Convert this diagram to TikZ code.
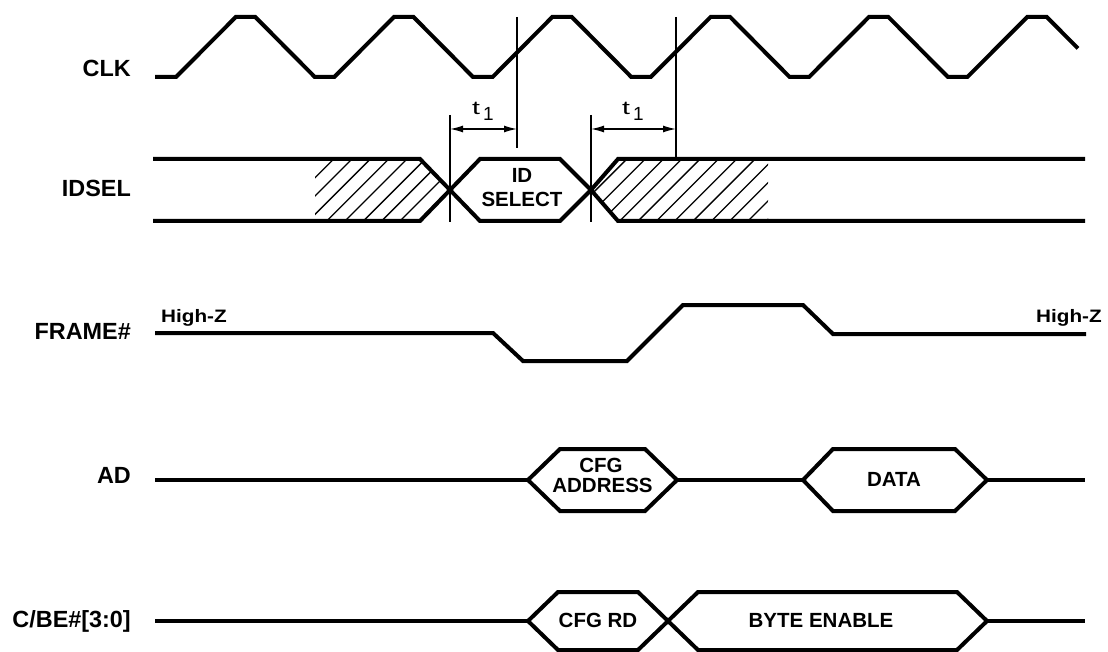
\documentclass[tikz,border=0pt]{standalone}
\usepackage{fontspec}
\usepackage{graphicx}
\setmainfont{Liberation Sans}
\usetikzlibrary{arrows.meta}
\begin{document}
\begin{tikzpicture}[x=1pt,y=-1pt,
  sig/.style={line width=4pt, line join=miter},
  thinln/.style={line width=1.4pt},
  hatchline/.style={line width=1.3pt},
  lbl/.style={font=\bfseries\fontsize{23.4}{28}\selectfont, inner sep=0pt, anchor=base east},
  boxtxt/.style={font=\bfseries\fontsize{20.5}{24}\selectfont, inner sep=0pt, anchor=base},
  hiz/.style={font=\bfseries\fontsize{18}{20}\selectfont, inner sep=0pt, anchor=base west},
  tlbl/.style={font=\fontsize{19}{20}\selectfont, inner sep=0pt, anchor=base west},
  dimarrow/.style={thinln, {Latex[length=13pt,width=7pt]}-{Latex[length=13pt,width=7pt]}}
]
\fill[white] (0,0) rectangle (1108,652);
\useasboundingbox (0,0) rectangle (1108,652);

% ---------- labels ----------
\node[lbl] (clk) at (131,77) {CLK};
\node[lbl] (idsel) at (131,197) {IDSEL};
\node[lbl] (frame) at (131,339) {FRAME\#};
\node[lbl] (ad) at (131,483) {AD};
\node[lbl] (cbe) at (131,627) {C/BE\#[3:0]};

% ---------- CLK ----------
\draw[sig] (155,77) -- (176,77) -- (235.8,17) -- (255.3,17) -- (314.8,77) -- (334.3,77)
  -- (394,17) -- (413.5,17) -- (473,77) -- (492.6,77) -- (552.3,17) -- (571.8,17)
  -- (631.3,77) -- (650.8,77) -- (710.6,17) -- (730.1,17) -- (789.6,77) -- (809.1,77)
  -- (868.9,17) -- (888.4,17) -- (947.9,77) -- (967.4,77) -- (1027.2,17) -- (1046.7,17)
  -- (1078,48.4);

% ---------- IDSEL hatching ----------
\begin{scope}
  \clip (315,159) -- (420,159) -- (450,190) -- (420,221) -- (315,221) -- cycle
        (591,190) -- (618,159) -- (768,159) -- (768,221) -- (618,221) -- cycle;
  \foreach \n in {-14,...,26} {
    \pgfmathsetmacro\cc{547.7+18.32*\n}
    \draw[hatchline] ({\cc-235},235) -- ({\cc-145},145);
  }
\end{scope}

% ---------- IDSEL ----------
\draw[sig] (153,159) -- (420,159) -- (450,190) -- (480,221) -- (560,221) -- (591,190)
  -- (618,159) -- (1085,159);
\draw[sig] (153,221) -- (420,221) -- (450,190) -- (480,159) -- (560,159) -- (591,190)
  -- (618,221) -- (1085,221);
\node[boxtxt] (id) at (522,183) {ID};
\node[boxtxt] (sel) at (522,207) {SELECT};

% ---------- timing marks ----------
\coordinate (va1) at (450,115);
\coordinate (vb1) at (450,222);
\coordinate (va2) at (517,17);
\coordinate (vb2) at (517,148);
\coordinate (va3) at (591,115);
\coordinate (vb3) at (591,222);
\coordinate (va4) at (676,17);
\coordinate (vb4) at (676,159);
\draw[thinln] (va1) -- (vb1);
\draw[thinln] (va2) -- (vb2);
\draw[thinln] (va3) -- (vb3);
\draw[thinln] (va4) -- (vb4);
\coordinate (a1l) at (450,129);
\coordinate (a1r) at (517,129);
\coordinate (a2l) at (591,129);
\coordinate (a2r) at (676,129);
\draw[dimarrow] (a1l) -- (a1r);
\draw[dimarrow] (a2l) -- (a2r);
\node[tlbl] (t1a) at (472,115) {\scalebox{1.5}[1]{t}};
\node[tlbl] (s1a) at (483,121) {1};
\node[tlbl] (t1b) at (622,115) {\scalebox{1.5}[1]{t}};
\node[tlbl] (s1b) at (633,121) {1};

% ---------- FRAME# ----------
\draw[sig] (155,333) -- (493,333) -- (523,361) -- (627,361) -- (683,305) -- (803,305)
  -- (833,334) -- (1086,334);
\node[hiz] (hz1) at (161,322) {\scalebox{1.15}[1]{High-Z}};
\node[hiz] (hz2) at (1036,322) {\scalebox{1.15}[1]{High-Z}};

% ---------- AD ----------
\draw[sig] (155,480) -- (528,480);
\draw[sig] (528,480) -- (560,449) -- (645,449) -- (677,480) -- (645,511) -- (560,511) -- cycle;
\draw[sig] (677,480) -- (803,480);
\draw[sig] (803,480) -- (833,449) -- (955,449) -- (987,480) -- (955,511) -- (833,511) -- cycle;
\draw[sig] (987,480) -- (1085,480);
\node[boxtxt] (cfg) at (601,472) {CFG};
\node[boxtxt] (addr) at (602.5,492) {ADDRESS};
\node[boxtxt] (data) at (894,486) {DATA};

% ---------- C/BE# ----------
\draw[sig] (155,621) -- (528,621);
\draw[sig] (528,621) -- (558,592) -- (638,592) -- (668,621) -- (638,650) -- (558,650) -- cycle;
\draw[sig] (668,621) -- (698,592) -- (957,592) -- (987,621) -- (957,650) -- (698,650) -- cycle;
\draw[sig] (987,621) -- (1085,621);
\node[boxtxt] (cfgrd) at (598,627) {CFG RD};
\node[boxtxt] (be) at (821,627) {BYTE ENABLE};
\end{tikzpicture}
\end{document}
